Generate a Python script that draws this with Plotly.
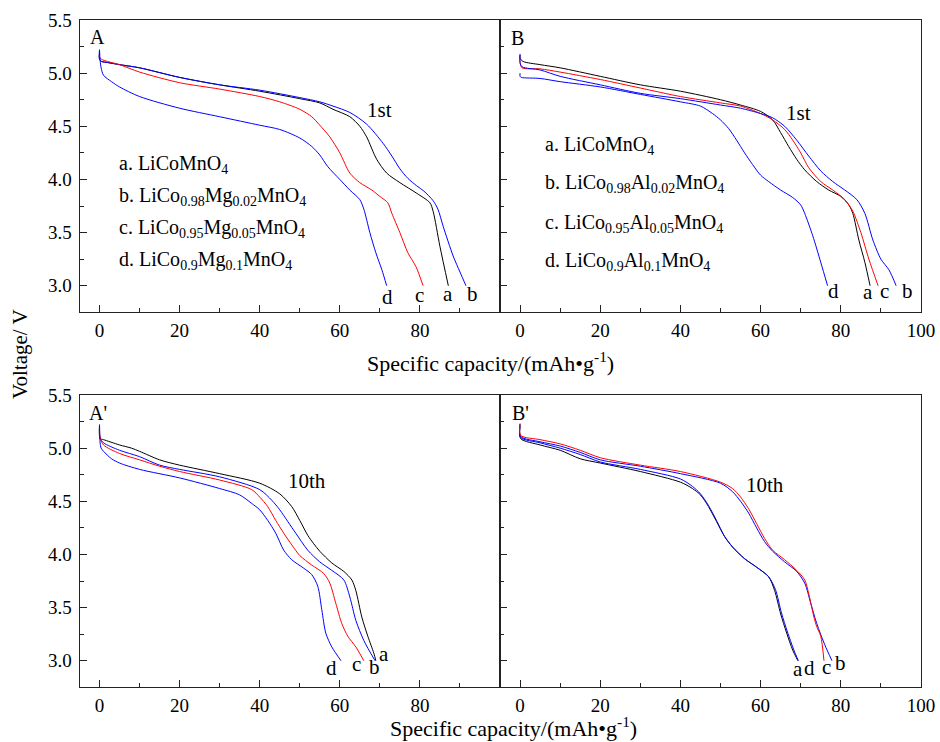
import plotly.graph_objects as go

# ---------------- data: discharge curves (capacity mAh/g, voltage V) ----------------
# Panel A: LiCo(1-x)Mg(x)MnO4, 1st cycle
mg1_a_x = [0, 0, 0.5, 2, 5, 10, 20, 30, 40, 50, 55, 58.3, 62.5, 65, 66.7, 69.2, 71.7, 75, 79.2, 82.5, 83.3, 85, 87.1]
mg1_a_y = [5.20, 5.13, 5.11, 5.10, 5.08, 5.05, 4.96, 4.89, 4.83, 4.76, 4.72, 4.66, 4.59, 4.50, 4.40, 4.19, 4.06, 3.97, 3.87, 3.78, 3.70, 3.37, 3.00]
mg1_b_x = [0, 0, 0.5, 2, 5, 10, 20, 30, 40, 50, 55, 58.3, 62.5, 66.7, 70.8, 73, 75, 77, 79.2, 81, 83.3, 84.5, 85.8, 88.3, 90, 91.5]
mg1_b_y = [5.22, 5.13, 5.11, 5.10, 5.08, 5.05, 4.96, 4.89, 4.84, 4.77, 4.73, 4.69, 4.63, 4.52, 4.34, 4.22, 4.10, 4.01, 3.94, 3.89, 3.80, 3.72, 3.56, 3.28, 3.13, 3.00]
mg1_c_x = [0, 0, 0.5, 2, 5, 10, 20, 30, 40, 45, 50, 53, 55, 57.5, 60, 62.5, 65, 68, 70, 72, 73, 75, 77, 79, 80.8]
mg1_c_y = [5.17, 5.15, 5.13, 5.11, 5.08, 5.01, 4.91, 4.85, 4.78, 4.73, 4.66, 4.59, 4.51, 4.40, 4.25, 4.06, 3.97, 3.90, 3.84, 3.78, 3.68, 3.50, 3.31, 3.18, 3.00]
mg1_d_x = [0, 0.15, 0.4, 1, 3, 5, 10, 20, 30, 40, 45, 50, 53, 55, 57, 60, 62.5, 65, 66, 67.5, 69, 70.5, 71.7]
mg1_d_y = [5.22, 5.12, 5.05, 4.98, 4.92, 4.87, 4.78, 4.67, 4.59, 4.51, 4.47, 4.39, 4.31, 4.23, 4.12, 4.00, 3.90, 3.81, 3.72, 3.50, 3.31, 3.15, 3.00]

# Panel B: LiCo(1-x)Al(x)MnO4, 1st cycle
al1_a_x = [0, 0, 0.75, 5, 10, 20, 30, 40, 50, 55, 60, 63, 65, 67, 69, 71, 74, 77, 80, 82, 83, 84.5, 86, 87.3]
al1_a_y = [5.17, 5.14, 5.11, 5.08, 5.05, 4.97, 4.89, 4.83, 4.75, 4.70, 4.64, 4.56, 4.44, 4.31, 4.19, 4.09, 3.98, 3.90, 3.84, 3.76, 3.68, 3.43, 3.22, 3.00]
al1_b_x = [0, 0, 0.5, 5, 10, 20, 30, 40, 50, 55, 60, 63, 66, 69, 72, 75, 78, 81, 84, 86, 88, 90, 92, 93.8]
al1_b_y = [5.18, 5.10, 5.06, 5.03, 4.97, 4.89, 4.81, 4.76, 4.70, 4.67, 4.62, 4.58, 4.50, 4.37, 4.22, 4.08, 3.98, 3.90, 3.81, 3.68, 3.43, 3.25, 3.15, 3.00]
al1_c_x = [0, 0, 0.5, 5, 10, 20, 30, 40, 50, 55, 60, 63, 66, 68, 70, 72, 75, 78, 81, 83, 85, 87, 89.3]
al1_c_y = [5.15, 5.10, 5.05, 5.04, 5.01, 4.94, 4.86, 4.78, 4.72, 4.69, 4.62, 4.56, 4.47, 4.37, 4.25, 4.11, 3.98, 3.90, 3.81, 3.70, 3.50, 3.25, 3.00]
al1_d_x = [0, 0, 0.3, 5, 10, 20, 30, 40, 45, 48, 50, 52, 54, 56, 58, 60, 62, 65, 68, 70, 71, 73, 75, 76.7]
al1_d_y = [5.00, 4.97, 4.96, 4.95, 4.92, 4.87, 4.80, 4.73, 4.69, 4.62, 4.56, 4.48, 4.37, 4.25, 4.14, 4.04, 3.98, 3.90, 3.83, 3.76, 3.68, 3.47, 3.22, 3.00]

# Panel A': Mg series, 10th cycle
mg10_a_x = [0, 0.15, 1, 5, 8, 10, 15, 20, 30, 40, 45, 48, 50, 52, 53.5, 55, 58, 61, 63, 64, 65.5, 67, 68.5, 69]
mg10_a_y = [5.22, 5.09, 5.08, 5.03, 5.00, 4.97, 4.89, 4.84, 4.76, 4.67, 4.57, 4.45, 4.32, 4.18, 4.10, 4.03, 3.92, 3.84, 3.76, 3.66, 3.41, 3.23, 3.07, 3.00]
mg10_b_x = [0, 0.15, 1, 5, 10, 15, 20, 30, 40, 43, 45, 47, 49, 52, 55, 58, 61, 62.5, 64, 66, 68.8]
mg10_b_y = [5.22, 5.09, 5.05, 4.98, 4.92, 4.84, 4.80, 4.73, 4.61, 4.51, 4.42, 4.31, 4.20, 4.04, 3.93, 3.85, 3.76, 3.60, 3.38, 3.19, 3.00]
mg10_c_x = [0, 0.15, 1, 5, 10, 15, 20, 30, 38, 40, 42, 44, 46, 48, 50, 53, 56, 57.5, 59, 60.5, 62, 64, 66]
mg10_c_y = [5.20, 5.10, 5.03, 4.95, 4.89, 4.83, 4.78, 4.70, 4.61, 4.54, 4.45, 4.32, 4.20, 4.09, 3.99, 3.90, 3.82, 3.73, 3.54, 3.35, 3.23, 3.13, 3.00]
mg10_d_x = [0, 0.15, 0.4, 1, 3, 5, 10, 20, 30, 35, 38, 40, 42, 44, 46, 48, 51, 53, 54.5, 55.5, 56.5, 58, 60.3]
mg10_d_y = [5.22, 5.05, 5.00, 4.97, 4.90, 4.86, 4.80, 4.72, 4.62, 4.56, 4.48, 4.42, 4.32, 4.20, 4.04, 3.95, 3.87, 3.81, 3.70, 3.48, 3.26, 3.13, 3.00]

# Panel B': Al series, 10th cycle
al10_a_x = [0, 0.15, 5, 10, 15, 20, 30, 40, 43, 45, 47, 49, 51, 53, 56, 59, 62, 63.5, 65, 66.5, 68, 69.3]
al10_a_y = [5.20, 5.09, 5.03, 4.98, 4.90, 4.86, 4.78, 4.68, 4.62, 4.56, 4.45, 4.31, 4.17, 4.07, 3.96, 3.88, 3.79, 3.66, 3.44, 3.26, 3.10, 3.00]
al10_b_x = [0, 0.15, 5, 10, 15, 20, 30, 40, 50, 53, 55, 57, 59, 61, 63, 66, 69, 71, 72.5, 74, 76, 77.8]
al10_b_y = [5.23, 5.11, 5.06, 5.02, 4.96, 4.89, 4.83, 4.76, 4.67, 4.59, 4.50, 4.39, 4.25, 4.12, 4.03, 3.93, 3.84, 3.73, 3.54, 3.35, 3.15, 3.00]
al10_c_x = [0, 0.15, 5, 10, 15, 20, 30, 40, 50, 53, 55, 57, 59, 61, 63, 66, 69, 71, 72, 73.3, 74, 75, 75.8]
al10_c_y = [5.23, 5.12, 5.08, 5.04, 4.98, 4.91, 4.84, 4.78, 4.68, 4.62, 4.54, 4.43, 4.29, 4.15, 4.04, 3.95, 3.85, 3.76, 3.63, 3.41, 3.32, 3.23, 3.00]
al10_d_x = [0, 0.15, 5, 10, 15, 20, 30, 40, 43, 45, 47, 49, 51, 53, 56, 59, 62, 63.7, 65.2, 66.7, 68.2, 69.4]
al10_d_y = [5.22, 5.10, 5.05, 5.00, 4.94, 4.87, 4.80, 4.71, 4.64, 4.57, 4.46, 4.32, 4.17, 4.07, 3.96, 3.88, 3.79, 3.67, 3.45, 3.27, 3.11, 3.00]

x_major = [0, 20, 40, 60, 80]
x_major_full = [0, 20, 40, 60, 80, 100]
x_minor = [10, 30, 50, 70, 90]
y_major = [3.0, 3.5, 4.0, 4.5, 5.0, 5.5]
y_labels = ["3.0", "3.5", "4.0", "4.5", "5.0", "5.5"]
y_minor = [3.25, 3.75, 4.25, 4.75, 5.25]

legend_mg = ["a. LiCoMnO<sub>4</sub>",
             "b. LiCo<sub>0.98</sub>Mg<sub>0.02</sub>MnO<sub>4</sub>",
             "c. LiCo<sub>0.95</sub>Mg<sub>0.05</sub>MnO<sub>4</sub>",
             "d. LiCo<sub>0.9</sub>Mg<sub>0.1</sub>MnO<sub>4</sub>"]
legend_al = ["a. LiCoMnO<sub>4</sub>",
             "b. LiCo<sub>0.98</sub>Al<sub>0.02</sub>MnO<sub>4</sub>",
             "c. LiCo<sub>0.95</sub>Al<sub>0.05</sub>MnO<sub>4</sub>",
             "d. LiCo<sub>0.9</sub>Al<sub>0.1</sub>MnO<sub>4</sub>"]

BLACK, RED, BLUE = "#000000", "#ff0000", "#0000ff"
FONT = "Liberation Serif, Times New Roman, DejaVu Serif, serif"
AX = "#222222"
W, H = 940, 742

fig = go.Figure()

panels = [
    ("x", "y", [(mg1_a_x, mg1_a_y, BLACK), (mg1_b_x, mg1_b_y, BLUE), (mg1_c_x, mg1_c_y, RED), (mg1_d_x, mg1_d_y, BLUE)]),
    ("x2", "y2", [(al1_a_x, al1_a_y, BLACK), (al1_c_x, al1_c_y, RED), (al1_b_x, al1_b_y, BLUE), (al1_d_x, al1_d_y, BLUE)]),
    ("x3", "y3", [(mg10_a_x, mg10_a_y, BLACK), (mg10_b_x, mg10_b_y, BLUE), (mg10_c_x, mg10_c_y, RED), (mg10_d_x, mg10_d_y, BLUE)]),
    ("x4", "y4", [(al10_a_x, al10_a_y, BLACK), (al10_d_x, al10_d_y, BLUE), (al10_b_x, al10_b_y, BLUE), (al10_c_x, al10_c_y, RED)]),
]
for xa, ya, curves in panels:
    for cx, cy, col in curves:
        fig.add_trace(go.Scatter(x=cx, y=cy, mode="lines", xaxis=xa, yaxis=ya,
                                 line=dict(color=col, width=1, shape="spline", smoothing=0.8),
                                 showlegend=False, hoverinfo="skip"))

# panel placement in pixels -> paper fractions
left_dom = [79.5 / W, 500 / W]
right_dom = [500 / W, 921 / W]
top_dom = [1 - 312.3 / H, 1 - 20 / H]
bot_dom = [1 - 687.3 / H, 1 - 395 / H]


def xaxis(dom, anchor, vals):
    return dict(domain=dom, anchor=anchor, range=[-5, 100], tickmode="array",
                tickvals=vals, ticktext=[str(v) for v in vals],
                ticks="inside", ticklen=7, tickwidth=1, tickcolor=AX,
                minor=dict(tickmode="array", tickvals=x_minor, ticks="inside",
                           ticklen=4, tickwidth=1, tickcolor=AX),
                showline=True, linecolor=AX, linewidth=1, mirror=True,
                showgrid=False, zeroline=False, ticklabelstandoff=1, automargin=False,
                tickfont=dict(family=FONT, size=19, color="#000"))


def yaxis(dom, anchor, labels):
    return dict(domain=dom, anchor=anchor, range=[2.75, 5.5], tickmode="array",
                tickvals=y_major, ticktext=y_labels, showticklabels=labels,
                ticks="inside", ticklen=7, tickwidth=1, tickcolor=AX,
                minor=dict(tickmode="array", tickvals=y_minor, ticks="inside",
                           ticklen=4, tickwidth=1, tickcolor=AX),
                showline=True, linecolor=AX, linewidth=1, mirror=True,
                showgrid=False, zeroline=False, ticklabelstandoff=3, automargin=False,
                tickfont=dict(family=FONT, size=19, color="#000"))


fig.update_layout(
    width=W, height=H, margin=dict(l=0, r=0, t=0, b=0, autoexpand=False),
    paper_bgcolor="white", plot_bgcolor="white", showlegend=False,
    font=dict(family=FONT, color="#000"),
    xaxis=xaxis(left_dom, "y", x_major), yaxis=yaxis(top_dom, "x", True),
    xaxis2=xaxis(right_dom, "y2", x_major_full), yaxis2=yaxis(top_dom, "x2", False),
    xaxis3=xaxis(left_dom, "y3", x_major), yaxis3=yaxis(bot_dom, "x3", True),
    xaxis4=xaxis(right_dom, "y4", x_major_full), yaxis4=yaxis(bot_dom, "x4", False),
)

ann = []


def txt(xr, yr, x, y, text, size=21, xanchor="center", yanchor="middle"):
    ann.append(dict(xref=xr, yref=yr, x=x, y=y, text=text, showarrow=False,
                    xanchor=xanchor, yanchor=yanchor,
                    font=dict(family=FONT, size=size, color="#000")))


# panel tags and cycle labels
txt("x", "y", -0.6, 5.336, "A", 20)
txt("x2", "y2", -0.7, 5.326, "B", 20)
txt("x3", "y3", -0.5, 5.33, "A'", 20)
txt("x4", "y4", 0.05, 5.326, "B'", 20)
txt("x", "y", 70, 4.655, "1st")
txt("x2", "y2", 69.4, 4.627, "1st")
txt("x3", "y3", 51.75, 4.69, "10th")
txt("x4", "y4", 61.2, 4.65, "10th")

# curve end letters
for xr, yr, items in [
    ("x", "y", [(72, 2.89, "d"), (80, 2.91, "c"), (87, 2.92, "a"), (93.25, 2.92, "b")]),
    ("x2", "y2", [(78.2, 2.946, "d"), (86.9, 2.94, "a"), (90.9, 2.946, "c"), (96.7, 2.946, "b")]),
    ("x3", "y3", [(58, 2.93, "d"), (64.25, 2.97, "c"), (68.75, 2.94, "b"), (71, 3.06, "a")]),
    ("x4", "y4", [(69.4, 2.92, "a"), (72.2, 2.93, "d"), (76.4, 2.94, "c"), (79.9, 2.98, "b")]),
]:
    for lx, ly, t in items:
        txt(xr, yr, lx, ly, t)

# composition keys
for t, ly in zip(legend_mg, [4.14, 3.84, 3.54, 3.24]):
    txt("x", "y", 4.25, ly, t, 20, xanchor="left")
for t, ly in zip(legend_al, [4.32, 3.96, 3.59, 3.23]):
    txt("x2", "y2", 5.7, ly, t, 20, xanchor="left")

# axis titles
txt("paper", "paper", 490 / W, 1 - 362 / H, "Specific capacity/(mAh•g<sup>-1</sup>)", 22)
txt("paper", "paper", 513 / W, 1 - 727 / H, "Specific capacity/(mAh•g<sup>-1</sup>)", 22)
ann.append(dict(xref="paper", yref="paper", x=20 / W, y=1 - 354 / H, text="Voltage/ V",
                showarrow=False, textangle=-90, xanchor="center", yanchor="middle",
                font=dict(family=FONT, size=21, color="#000")))

fig.update_layout(annotations=ann)
fig.write_html("out.html")
